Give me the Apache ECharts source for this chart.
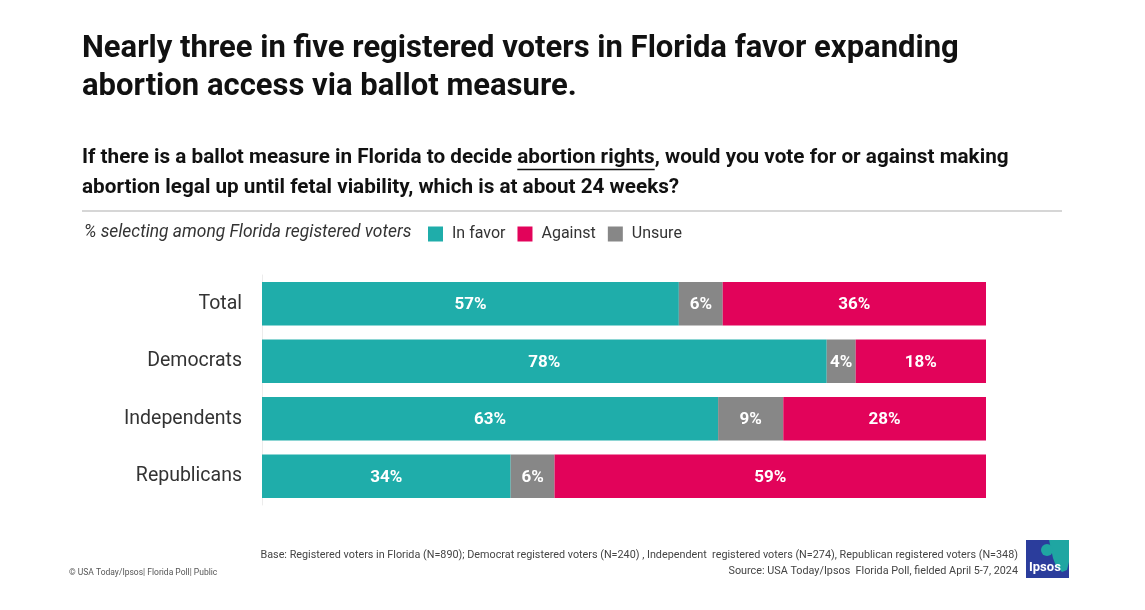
<!DOCTYPE html>
<html>
<head>
<meta charset="utf-8">
<script src="https://cdn.jsdelivr.net/npm/echarts@6/dist/echarts.min.js"></script>
<style>
html,body{margin:0;padding:0;background:#fff;}
#chart{width:1145px;height:610px;}
</style>
</head>
<body>
<div id="chart"></div>
<script>
// ---- data ----
var categories = ['Total', 'Democrats', 'Independents', 'Republicans'];
var inFavor = [57, 78, 63, 34];
var unsure = [6, 4, 9, 6];
var against = [36, 18, 28, 59];
var legendOrder = ['In favor', 'Against', 'Unsure'];

var titleLines = ['Nearly three in five registered voters in Florida favor expanding', 'abortion access via ballot measure.'];
var subPre = 'If there is a ballot measure in Florida to decide ';
var subUnder = 'abortion rights';
var subPost = ', would you vote for or against making';
var subLine2 = 'abortion legal up until fetal viability, which is at about 24 weeks?';
var legendNote = '% selecting among Florida registered voters';
var baseNote = 'Base: Registered voters in Florida (N=890); Democrat registered voters (N=240) , Independent  registered voters (N=274), Republican registered voters (N=348)';
var sourceNote = 'Source: USA Today/Ipsos  Florida Poll, fielded April 5-7, 2024';
var copyNote = '\u00A9 USA Today/Ipsos| Florida Poll| Public';

var COL_FAV = '#1FADAA', COL_AG = '#E2035A', COL_UN = '#878787';

// ---- helpers (layout only) ----
var cv = document.createElement('canvas').getContext('2d');
function measure(text, weight, size, family, style) {
  cv.font = (style || 'normal') + ' ' + weight + ' ' + size + 'px ' + family;
  return cv.measureText(text).width;
}
function fit(text, weight, family, target, style) {
  var w = measure(text, weight, 100, family, style);
  return Math.round(100 * target / w * 10) / 10;
}

var FAM = 'Roboto';
var titleSize = Math.min(fit(titleLines[0], 700, FAM, 876), 32);
var subSize = Math.min(fit(subPre + subUnder + subPost, 700, FAM, 928), 21);
var noteSize = fit(legendNote, 400, FAM, 328, 'italic');
var baseSize = fit(baseNote, 400, FAM, 756);

var underX0 = 82 + measure(subPre, 700, subSize, FAM);
var underW = measure(subUnder, 700, subSize, FAM);

// normalized shares (each row fills the full width)
function share(arr) {
  return arr.map(function (v, i) {
    var s = inFavor[i] + unsure[i] + against[i];
    return { value: v / s * 100, raw: v };
  });
}

function mkSeries(name, arr, color) {
  return {
    name: name,
    type: 'bar',
    stack: 'all',
    barWidth: '76%',
    data: share(arr),
    itemStyle: { color: color },
    label: {
      show: true,
      position: 'inside',
      color: '#fff',
      fontFamily: FAM,
      fontWeight: 700,
      fontSize: 17,
      offset: [0, 1],
      formatter: function (p) { return p.data.raw + '%'; }
    },
    emphasis: { disabled: true }
  };
}

var chart = echarts.init(document.getElementById('chart'), null, { renderer: 'canvas' });
chart.setOption({
  animation: false,
  backgroundColor: '#fff',
  grid: { left: 262, right: 159, top: 275, bottom: 105 },
  xAxis: { type: 'value', min: 0, max: 100, show: false },
  yAxis: {
    type: 'category',
    inverse: true,
    data: categories,
    axisLine: { show: true, lineStyle: { color: '#ececec', width: 1 } },
    axisTick: { show: false },
    axisLabel: { margin: 20, color: '#333', fontFamily: FAM, fontSize: 19.5, padding: [3, 0, 0, 0] }
  },
  legend: {
    data: legendOrder,
    left: 423,
    top: 221,
    itemWidth: 15,
    itemHeight: 15,
    itemGap: 12,
    icon: 'rect',
    selectedMode: false,
    textStyle: { color: '#333', fontFamily: FAM, fontSize: 16, padding: [0, 0, 0, 4] }
  },
  series: [
    mkSeries('In favor', inFavor, COL_FAV),
    mkSeries('Unsure', unsure, COL_UN),
    mkSeries('Against', against, COL_AG)
  ],
  graphic: [
    { type: 'text', left: 82, top: 34, style: { text: titleLines[0], fill: '#111', font: '700 ' + titleSize + 'px ' + FAM } },
    { type: 'text', left: 82, top: 72, style: { text: titleLines[1], fill: '#111', font: '700 ' + titleSize + 'px ' + FAM } },
    { type: 'text', left: 82, top: 147, style: { text: subPre + subUnder + subPost, fill: '#111', font: '700 ' + subSize + 'px ' + FAM } },
    { type: 'text', left: 82, top: 177, style: { text: subLine2, fill: '#111', font: '700 ' + subSize + 'px ' + FAM } },
    { type: 'line', shape: { x1: underX0, y1: 169.5, x2: underX0 + underW, y2: 169.5 }, style: { stroke: '#111', lineWidth: 1.5 } },
    { type: 'line', shape: { x1: 82, y1: 211, x2: 1062, y2: 211 }, style: { stroke: '#c8c8c8', lineWidth: 1.5 } },
    { type: 'text', left: 84, top: 224, style: { text: legendNote, fill: '#333', font: 'italic 400 ' + noteSize + 'px ' + FAM } },
    { type: 'text', right: 127, top: 550, style: { text: baseNote, fill: '#444', font: '400 ' + baseSize + 'px ' + FAM } },
    { type: 'text', right: 127, top: 566, style: { text: sourceNote, fill: '#444', font: '400 ' + baseSize + 'px ' + FAM } },
    { type: 'text', left: 69, top: 568, style: { text: copyNote, fill: '#555', font: '400 8.5px ' + FAM } },
    // Ipsos logo
    { type: 'rect', shape: { x: 1026, y: 540, width: 43, height: 38 }, style: { fill: '#2B3D9C' } },
    { type: 'polygon', shape: { points: [[1049, 540], [1069, 540], [1069, 562], [1067, 570], [1062, 572], [1056, 566], [1053, 558]] }, style: { fill: '#1FA6A2' } },
    { type: 'circle', shape: { cx: 1047, cy: 550, r: 6 }, style: { fill: '#1FA6A2' } },
    { type: 'text', left: 1029, top: 561, style: { text: 'Ipsos', fill: '#fff', font: '700 13px ' + FAM } }
  ]
});
</script>
</body>
</html>
